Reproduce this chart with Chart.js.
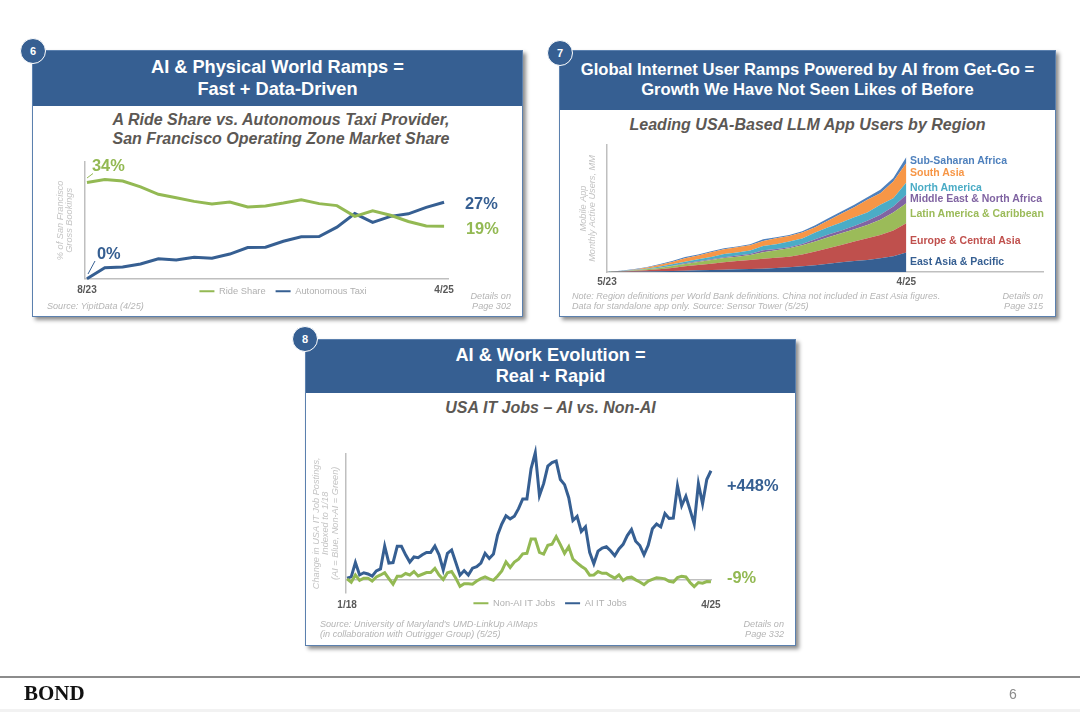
<!DOCTYPE html>
<html>
<head>
<meta charset="utf-8">
<script src="https://cdn.jsdelivr.net/npm/chart.js@4"></script>
<style>
  html, body { margin: 0; padding: 0; background: #fff; }
  body { position: relative; width: 1080px; height: 712px; overflow: hidden; font-family: "Liberation Sans", Arial, sans-serif; }
  .card { position: absolute; box-sizing: border-box; background: #fff; border: 1.5px solid #5b80ae; box-shadow: 3px 3px 4px rgba(0,0,0,.45); }
  .head { position: absolute; left: 0; right: 0; top: 0; background: #365f92; color: #fff; font-weight: bold; text-align: center; }
  .sub { position: absolute; left: 0; right: 0; text-align: center; color: #5c5854; font-weight: bold; font-style: italic; font-size: 16px; line-height: 19px; }
  .badge { position: absolute; width: 26px; height: 26px; box-sizing: border-box; border-radius: 50%; background: #365f92; border: 1px solid #fff; color: #fff; font-size: 11px; font-weight: bold; line-height: 24px; text-align: center; }
  canvas { position: absolute; }
  .note { position: absolute; color: #b5b5b5; font-style: italic; font-size: 9.1px; line-height: 10px; white-space: nowrap; }
  .page { text-align: right; }
  .val { position: absolute; font-weight: bold; font-size: 16.4px; transform: translateY(-50%); white-space: nowrap; }
  .reg { position: absolute; left: 910px; font-weight: bold; font-size: 10.5px; transform: translateY(-50%); white-space: nowrap; }
  .green { color: #93b953; } .blue { color: #365f92; }
  #rule { position: absolute; left: 0; top: 676px; width: 1080px; height: 2px; background: #8c8c8c; }
  #bond { position: absolute; left: 24px; top: 681px; font: bold 21px "Liberation Serif", serif; color: #111; }
  #num { position: absolute; left: 1009px; top: 686px; font-size: 14px; color: #8c8c8c; }
  #strip { position: absolute; left: 0; top: 709px; width: 1080px; height: 3px; background: #f2f2f2; }
</style>
</head>
<body>

<div class="card" style="left:32px;top:50px;width:491px;height:267px">
  <div class="head" style="height:55px;font-size:18.2px;line-height:22px;padding-top:5px;box-sizing:border-box">AI &amp; Physical World Ramps =<br>Fast + Data-Driven</div>
  <div class="sub" style="top:59px;left:7px">A Ride Share vs. Autonomous Taxi Provider,<br>San Francisco Operating Zone Market Share</div>
</div>
<div class="badge" style="left:20px;top:38px">6</div>

<div class="card" style="left:559px;top:50px;width:497px;height:267px">
  <div class="head" style="height:59px;font-size:16.6px;line-height:20px;padding-top:9px;box-sizing:border-box">Global Internet User Ramps Powered by AI from Get-Go =<br>Growth We Have Not Seen Likes of Before</div>
  <div class="sub" style="top:64px">Leading USA-Based LLM App Users by Region</div>
</div>
<div class="badge" style="left:547px;top:40px">7</div>

<div class="card" style="left:305px;top:339px;width:491px;height:307px">
  <div class="head" style="height:53px;font-size:18.2px;line-height:21px;padding-top:5px;box-sizing:border-box">AI &amp; Work Evolution =<br>Real + Rapid</div>
  <div class="sub" style="top:58px">USA IT Jobs – AI vs. Non-AI</div>
</div>
<div class="badge" style="left:292px;top:326px">8</div>

<canvas id="rideChart" width="494" height="172" style="left:36px;top:155px"></canvas>
<canvas id="llmChart" width="490" height="150" style="left:565px;top:140px"></canvas>
<canvas id="jobsChart" width="484" height="197" style="left:308px;top:445px"></canvas>

<svg style="position:absolute;left:0;top:0" width="1080" height="712">
  <line x1="87" y1="178" x2="93" y2="173.5" stroke="#93b953" stroke-width="1"/>
  <line x1="88" y1="274" x2="95" y2="261" stroke="#365f92" stroke-width="1"/>
</svg>

<div class="val green" style="left:92px;top:165px">34%</div>
<div class="val blue" style="left:97px;top:253px">0%</div>
<div class="val blue" style="left:465px;top:203px">27%</div>
<div class="val green" style="left:466px;top:228px">19%</div>
<div class="val blue" style="left:727px;top:485px">+448%</div>
<div class="val green" style="left:727px;top:577px">-9%</div>

<div class="reg" style="top:160px;color:#4f81bd">Sub-Saharan Africa</div>
<div class="reg" style="top:172px;color:#f79646">South Asia</div>
<div class="reg" style="top:187px;color:#4bacc6">North America</div>
<div class="reg" style="top:198px;color:#8064a2">Middle East &amp; North Africa</div>
<div class="reg" style="top:212.5px;color:#9bbb59">Latin America &amp; Caribbean</div>
<div class="reg" style="top:240px;color:#c0504d">Europe &amp; Central Asia</div>
<div class="reg" style="top:261px;color:#365f92">East Asia &amp; Pacific</div>

<div class="note" style="left:47px;top:301px">Source: YipitData (4/25)</div>
<div class="note page" style="right:569px;top:291px">Details on<br>Page 302</div>
<div class="note" style="left:572px;top:291px">Note: Region definitions per World Bank definitions. China not included in East Asia figures.<br>Data for standalone app only. Source: Sensor Tower (5/25)</div>
<div class="note page" style="right:37px;top:291px">Details on<br>Page 315</div>
<div class="note" style="left:320px;top:619px">Source: University of Maryland's UMD-LinkUp AIMaps<br>(in collaboration with Outrigger Group) (5/25)</div>
<div class="note page" style="right:296px;top:619px">Details on<br>Page 332</div>

<div id="rule"></div>
<div id="bond">BOND</div>
<div id="num">6</div>
<div id="strip"></div>

<script>
// Ride share vs autonomous taxi, % of bookings (8/23 - 4/25)
const rideMonths = ['8/23', '9/23', '10/23', '11/23', '12/23', '1/24', '2/24', '3/24', '4/24', '5/24', '6/24', '7/24', '8/24', '9/24', '10/24', '11/24', '12/24', '1/25', '2/25', '3/25', '4/25'];
const rideShare = [34, 35, 34.5, 32.4, 29.8, 28.6, 27.3, 26.4, 27.1, 25.3, 25.7, 26.7, 27.9, 26.5, 25.8, 22, 24, 22.4, 20.2, 18.6, 18.5];
const autoTaxi = [0, 3.9, 4.1, 5.2, 7, 6.6, 7.6, 7.2, 8.7, 11, 11.1, 13.2, 14.8, 14.9, 18.2, 23, 19.9, 22, 22.9, 25.2, 27];

// LLM app users by region, MM (5/23 - 4/25), no scale on the original so values are estimates
const llmMonths = ['5/23', '6/23', '7/23', '8/23', '9/23', '10/23', '11/23', '12/23', '1/24', '2/24', '3/24', '4/24', '5/24', '6/24', '7/24', '8/24', '9/24', '10/24', '11/24', '12/24', '1/25', '2/25', '3/25', '4/25'];
const eastAsia = [0, .5, 1, 1.5, 2, 3, 4, 5, 6, 7, 8, 9, 10, 12, 14, 17, 20, 25, 29, 33, 36, 41, 47, 58];
const europe = [0, 1, 2, 3.5, 6, 9, 13, 16, 19, 22, 25, 27, 30, 31, 32, 35, 41, 46, 52, 58, 65, 70, 77, 88];
const latam = [0, .5, 1.5, 3, 4, 6, 7, 9, 11, 13, 13, 15, 19, 22, 25, 28, 30, 33, 35, 37, 40, 45, 54, 60];
const mena = [0, .5, .5, .5, 1, 1, 2, 2, 2, 2, 3, 3, 6, 4, 3, 4, 7, 8, 8, 10, 12, 15, 18, 25];
const northAm = [0, .5, 1, 1.5, 3, 4, 5, 6, 7, 10, 9, 10, 13, 14, 17, 16, 20, 22, 24, 26, 25, 30, 25, 37];
const southAsia = [0, 0, 1, 3, 5, 7, 10, 11, 14, 14, 16, 16, 15, 18, 17, 18, 16, 20, 26, 30, 38, 35, 50, 58];
const subSahara = [0, .5, 1, 1, 2, 3, 4, 3, 3, 3, 2, 3, 5, 3, 3, 4, 6, 7, 7, 7, 8, 10, 10, 18];

// IT job postings, % change since 1/18 (1/18 - 4/25)
const jobYears = ['18', '19', '20', '21', '22', '23', '24'];
const jobMonths = jobYears.flatMap(y => Array.from({ length: 12 }, (_, m) => (m + 1) + '/' + y)).concat(['1/25', '2/25', '3/25', '4/25']);
const aiJobs = [6, 11, 70, 19, 28, 23, 14, 36, 44, 138, 68, 70, 137, 137, 102, 72, 93, 90, 102, 112, 112, 138, 102, 40, 108, 122, 70, 18, 37, 19, 47, 53, 68, 108, 87, 105, 184, 229, 263, 250, 261, 292, 332, 332, 457, 522, 346, 395, 467, 482, 488, 412, 391, 337, 243, 260, 198, 217, 112, 65, 117, 130, 135, 119, 98, 126, 145, 181, 206, 158, 140, 102, 141, 209, 229, 217, 272, 252, 253, 386, 304, 343, 287, 229, 395, 312, 412, 448];
const nonAiJobs = [3, -11, 19, -3, 6, 6, -6, 11, 19, 28, 4, -19, 14, 14, 25, 19, 33, 15, 22, 29, 29, 46, 19, 0, 28, 33, 6, -28, -17, -17, -19, -6, 4, 11, 3, -3, 15, 36, 73, 50, 72, 84, 106, 108, 167, 167, 112, 105, 141, 146, 177, 144, 108, 135, 84, 69, 55, 43, 18, 19, 33, 26, 26, 15, 6, 19, -4, 8, 10, -1, -10, -21, -6, 1, 7, 6, 3, -7, -10, 8, 14, 11, -12, -29, -12, -15, -8, -9];

const GREEN = '#93b953';
const BLUE = '#365f92';
const AXIS = '#bfbfbf';

const toPoints = (values) => values.map((v, i) => ({ x: i, y: v }));

function lineSet(label, values, color) {
    return { label, data: toPoints(values), borderColor: color, backgroundColor: color, borderWidth: 3, pointRadius: 0, tension: 0, clip: false };
}

function areaSet(label, values, color, fill) {
    return { label, data: toPoints(values), borderWidth: 0, backgroundColor: color, pointRadius: 0, tension: 0, fill };
}

// only first and last month get a tick label
function xAxis(months, min, max, tickPad) {
    return {
        type: 'linear', min, max,
        grid: { display: false, drawTicks: false },
        border: { display: true, color: AXIS, width: 1.5 },
        afterBuildTicks: (s) => { s.ticks = [{ value: 0 }, { value: months.length - 1 }]; },
        afterFit: (s) => { s.height = tickPad + 13; },
        ticks: {
            autoSkip: false, maxRotation: 0, padding: tickPad, color: '#595959',
            font: { family: 'Liberation Sans', size: 10, weight: 'bold' },
            callback: (v) => months[v]
        }
    };
}

function yAxis(min, max, width, titleLines) {
    return {
        min, max,
        grid: { display: false, drawTicks: false },
        border: { display: true, color: AXIS, width: 1.5 },
        ticks: { display: false },
        afterFit: (s) => { s.width = width; },
        title: {
            display: true, text: titleLines, color: '#c4c4c4', padding: 0,
            font: { family: 'Liberation Sans', size: 9.2, style: 'italic', lineHeight: 1.08 }
        }
    };
}

function legendOpts() {
    return {
        display: true, position: 'bottom',
        labels: {
            boxWidth: 15, boxHeight: 2, padding: 10, color: '#b0b0b0',
            font: { family: 'Liberation Sans', size: 9.3 },
            generateLabels: (chart) => Chart.defaults.plugins.legend.labels.generateLabels(chart)
                .map(l => ({ ...l, fillStyle: l.strokeStyle, lineWidth: 0 }))
        }
    };
}

// the legend sits beside the tick labels in the original, not under them
function moveLegend(dx, dy) {
    return {
        id: 'moveLegend',
        afterLayout(chart) {
            const l = chart.legend;
            l.left += dx; l.right += dx; l.top += dy; l.bottom += dy;
        }
    };
}

new Chart(document.getElementById('rideChart'), {
    type: 'line',
    data: { datasets: [lineSet('Ride Share', rideShare, GREEN), lineSet('Autonomous Taxi', autoTaxi, BLUE)] },
    plugins: [moveLegend(31.5, -21)],
    options: {
        responsive: false, animation: false,
        layout: { padding: { left: 19, right: 82, top: 7, bottom: 0 } },
        plugins: { legend: legendOpts(), tooltip: { enabled: false } },
        scales: {
            x: xAxis(rideMonths, -0.11, 20.22, 6),
            y: yAxis(0, 41.2, 30, ['% of San Francisco', 'Gross Bookings'])
        }
    }
});

new Chart(document.getElementById('llmChart'), {
    type: 'line',
    data: {
        datasets: [
            areaSet('East Asia & Pacific', eastAsia, '#365f92', 'origin'),
            areaSet('Europe & Central Asia', europe, '#bf504d', '-1'),
            areaSet('Latin America & Caribbean', latam, '#9bbb59', '-1'),
            areaSet('Middle East & North Africa', mena, '#8064a2', '-1'),
            areaSet('North America', northAm, '#4bacc6', '-1'),
            areaSet('South Asia', southAsia, '#f79646', '-1'),
            areaSet('Sub-Saharan Africa', subSahara, '#4f81bd', '-1')
        ]
    },
    options: {
        responsive: false, animation: false,
        layout: { padding: { left: 13, right: 12, top: 5, bottom: 1 } },
        plugins: { legend: { display: false }, tooltip: { enabled: false } },
        scales: {
            x: xAxis(llmMonths, 0, 33.5, 4),
            y: { ...yAxis(0, 380, 29, ['Mobile App', 'Monthly Active Users, MM']), stacked: true }
        }
    }
});

new Chart(document.getElementById('jobsChart'), {
    type: 'line',
    data: { datasets: [lineSet('Non-AI IT Jobs', nonAiJobs, GREEN), lineSet('AI IT Jobs', aiJobs, BLUE)] },
    plugins: [moveLegend(38.5, -24)],
    options: {
        responsive: false, animation: false,
        layout: { padding: { left: 3, right: 80, top: 9, bottom: 0 } },
        plugins: { legend: legendOpts(), tooltip: { enabled: false } },
        scales: {
            x: { ...xAxis(jobMonths, -0.25, 87.25, 7), border: { display: false } },
            y: {
                ...yAxis(-54, 517, 35, ['Change in USA IT Job Postings,', 'Indexed to 1/18', '(AI = Blue, Non-AI = Green)']),
                grid: { display: true, drawTicks: false, color: AXIS, lineWidth: 1.5 },
                afterBuildTicks: (s) => { s.ticks = [{ value: 0 }]; }
            }
        }
    }
});
</script>
</body>
</html>
